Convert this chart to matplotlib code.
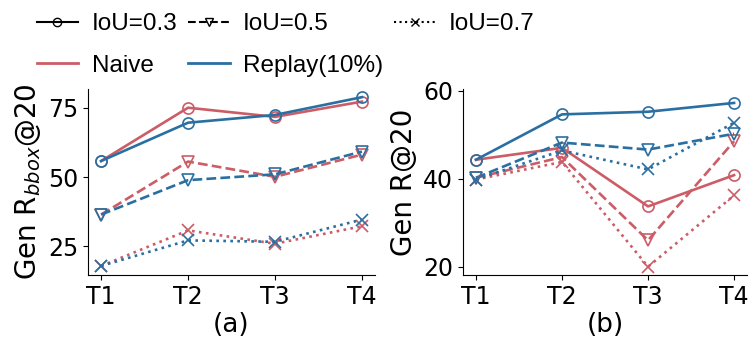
import matplotlib.pyplot as plt
from matplotlib.lines import Line2D

tasks = ['T1', 'T2', 'T3', 'T4']

# (a) Gen R_bbox@20
a_naive_03 = [55.8, 75.0, 71.7, 77.2]
a_replay_03 = [55.8, 69.6, 72.4, 78.8]
a_naive_05 = [36.5, 55.6, 50.1, 58.1]
a_replay_05 = [36.5, 48.9, 51.0, 59.2]
a_naive_07 = [18.0, 30.8, 26.0, 32.3]
a_replay_07 = [18.0, 27.2, 26.7, 34.7]

# (b) Gen R@20
b_naive_03 = [44.3, 47.0, 33.7, 40.8]
b_replay_03 = [44.3, 54.6, 55.2, 57.2]
b_naive_05 = [40.2, 44.9, 26.0, 48.5]
b_replay_05 = [40.2, 48.2, 46.6, 50.2]
b_naive_07 = [39.8, 43.8, 20.0, 36.2]
b_replay_07 = [39.8, 46.4, 42.1, 52.7]

RED = '#cc5c66'
BLUE = '#2a6fa2'
styles = {'0.3': ('-', 'o'), '0.5': ('--', 'v'), '0.7': (':', 'x')}


def draw(ax, series):
    x = range(len(tasks))
    for y, color, iou in series:
        ls, mk = styles[iou]
        ax.plot(x, y, linestyle=ls, marker=mk, color=color, lw=1.9,
                markersize=8, fillstyle='none', markeredgewidth=1.2)
    ax.set_xticks(list(x))
    ax.set_xticklabels(tasks)
    ax.set_xlim(-0.15, 3.15)
    ax.spines['top'].set_visible(False)
    ax.spines['right'].set_visible(False)
    ax.tick_params(labelsize=17)


fig = plt.figure(figsize=(7.53, 3.43), dpi=100)
ax1 = fig.add_axes([0.117, 0.198, 0.381, 0.543])
ax2 = fig.add_axes([0.615, 0.198, 0.377, 0.543])

draw(ax1, [(a_naive_03, RED, '0.3'), (a_replay_03, BLUE, '0.3'),
           (a_naive_05, RED, '0.5'), (a_replay_05, BLUE, '0.5'),
           (a_naive_07, RED, '0.7'), (a_replay_07, BLUE, '0.7')])
ax1.set_ylim(14.7, 81.8)
ax1.set_yticks([25, 50, 75])
ax1.set_ylabel(r'Gen R$_{bbox}$@20', fontsize=20)
ax1.set_xlabel('(a)', fontsize=19, labelpad=2)

draw(ax2, [(b_naive_03, RED, '0.3'), (b_replay_03, BLUE, '0.3'),
           (b_naive_05, RED, '0.5'), (b_replay_05, BLUE, '0.5'),
           (b_naive_07, RED, '0.7'), (b_replay_07, BLUE, '0.7')])
ax2.set_ylim(18.1, 60.4)
ax2.set_yticks([20, 40, 60])
ax2.set_ylabel('Gen R@20', fontsize=20)
ax2.set_xlabel('(b)', fontsize=19, labelpad=2)

handles = [
    Line2D([], [], color='black', ls='-', marker='o', fillstyle='none', markersize=6),
    Line2D([], [], color=RED, lw=2),
    Line2D([], [], color='black', ls='--', marker='v', fillstyle='none', markersize=6),
    Line2D([], [], color=BLUE, lw=2),
    Line2D([], [], color='black', ls=':', marker='x', markersize=6),
]
labels = ['IoU=0.3', 'Naive', 'IoU=0.5', 'Replay(10%)', 'IoU=0.7']
fig.legend(handles, labels, ncol=3, frameon=False,
           prop={'family': 'Liberation Sans', 'size': 17.5},
           loc='upper left', bbox_to_anchor=(0.036, 0.99), borderaxespad=0,
           handlelength=1.7, handletextpad=0.55, columnspacing=0.45,
           labelspacing=0.8)

plt.savefig('out.png')
